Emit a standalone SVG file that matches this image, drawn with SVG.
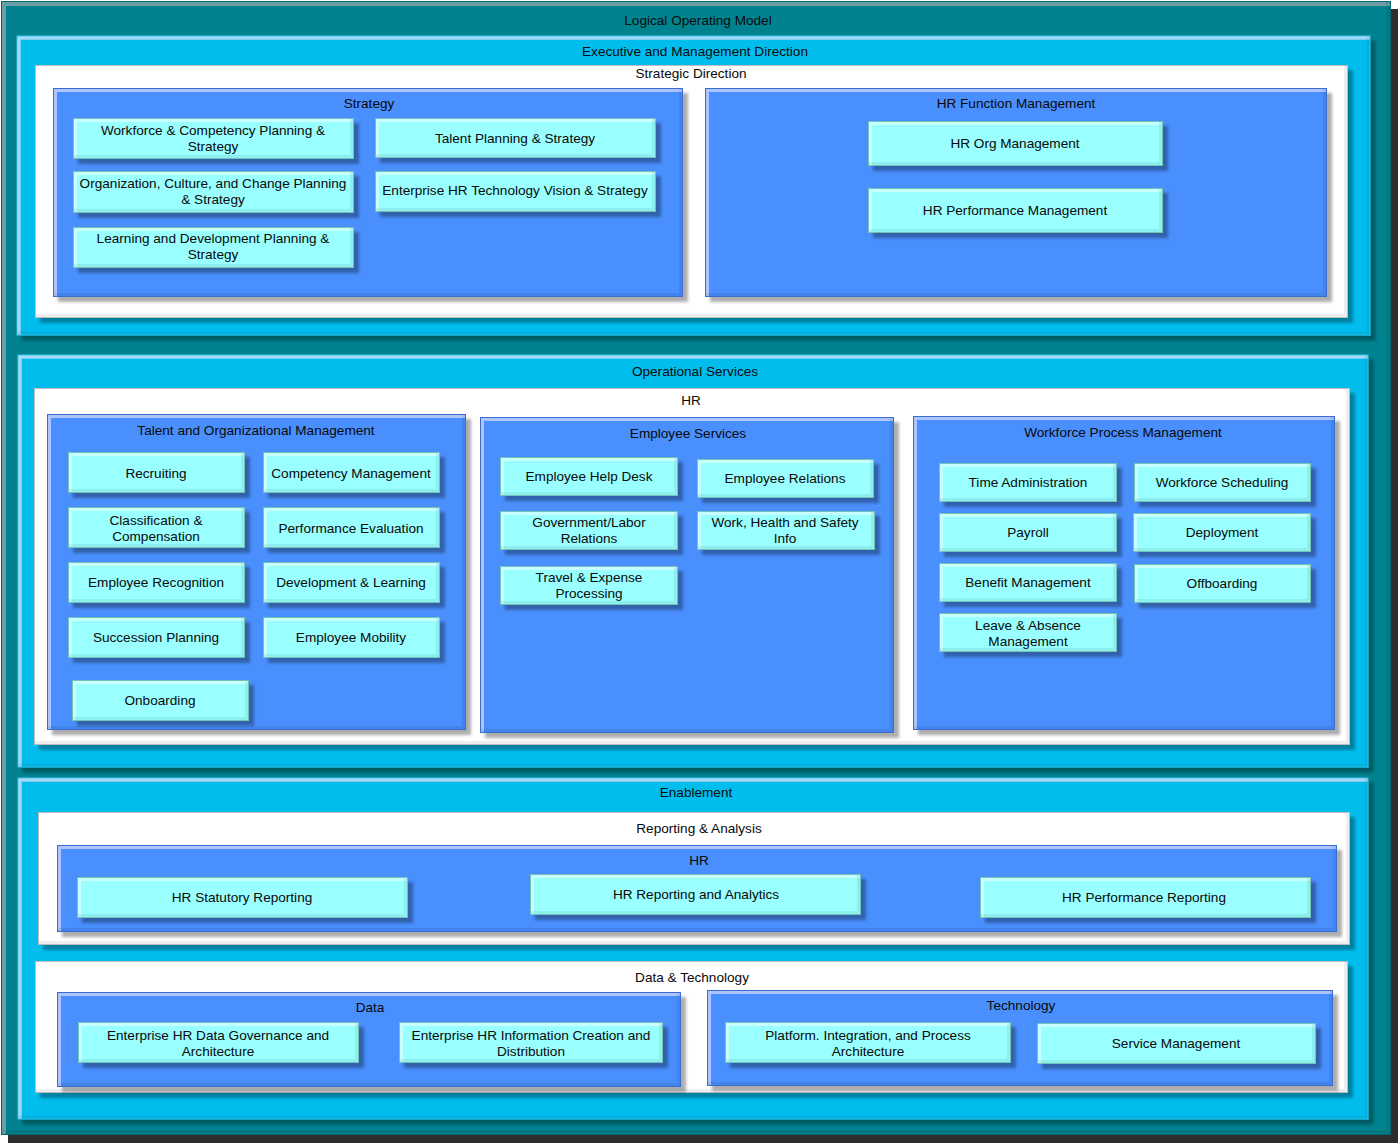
<svg xmlns="http://www.w3.org/2000/svg" width="1400" height="1145" viewBox="0 0 1400 1145">
<defs>
<filter id="fo" x="-0.02" y="-0.02" width="1.05" height="1.05">
<feOffset in="SourceAlpha" dx="7" dy="8" result="o"/>
<feFlood flood-color="#2e2e2e"/>
<feComposite in2="o" operator="in" result="sh"/>
<feMorphology in="SourceAlpha" operator="erode" radius="1" result="e"/>
<feOffset in="e" dx="4" dy="4" result="e1"/>
<feComposite in="e" in2="e1" operator="out" result="tl"/>
<feFlood flood-color="#ffffff" flood-opacity="0.15"/>
<feComposite in2="tl" operator="in" result="hl"/>
<feOffset in="e" dx="-4" dy="-4" result="e2"/>
<feComposite in="e" in2="e2" operator="out" result="br"/>
<feFlood flood-color="#000" flood-opacity="0.15"/>
<feComposite in2="br" operator="in" result="dk"/>
<feMerge><feMergeNode in="sh"/><feMergeNode in="SourceGraphic"/><feMergeNode in="hl"/><feMergeNode in="dk"/></feMerge>
</filter>
<filter id="fb" x="-0.05" y="-0.1" width="1.2" height="1.6">
<feOffset in="SourceAlpha" dx="5" dy="5" result="o"/>
<feGaussianBlur in="o" stdDeviation="1.5" result="ob"/>
<feFlood flood-color="#000" flood-opacity="0.32"/>
<feComposite in2="ob" operator="in" result="sh"/>
<feMorphology in="SourceAlpha" operator="erode" radius="1" result="e"/>
<feOffset in="e" dx="3" dy="3" result="e1"/>
<feComposite in="e" in2="e1" operator="out" result="tl"/>
<feFlood flood-color="#ffffff" flood-opacity="0.38"/>
<feComposite in2="tl" operator="in" result="hl"/>
<feOffset in="e" dx="-3" dy="-3" result="e2"/>
<feComposite in="e" in2="e2" operator="out" result="br"/>
<feFlood flood-color="#000" flood-opacity="0.15"/>
<feComposite in2="br" operator="in" result="dk"/>
<feMerge><feMergeNode in="sh"/><feMergeNode in="SourceGraphic"/><feMergeNode in="hl"/><feMergeNode in="dk"/></feMerge>
</filter>
</defs>
<style>
text{font-family:"Liberation Sans",Arial,sans-serif;font-size:13.6px;fill:#0a0a0a;text-anchor:middle}
.teal{fill:#00838f;stroke:#006770;stroke-width:1;filter:url(#fo)}
.cyan{fill:#00bdee;stroke:#2ccaf8;stroke-width:1;filter:url(#fb)}
.white{fill:#ffffff;stroke:#bdbdbd;stroke-width:1;filter:url(#fb)}
.blue{fill:#4a8ffd;stroke:#3a6cd0;stroke-width:1;filter:url(#fb)}
.leaf{fill:#99ffff;stroke:#72c2b8;stroke-width:1;filter:url(#fb)}
</style>
<rect width="1400" height="1145" fill="#ffffff"/>

<g id="logical-operating-model">
<rect class="teal" x="1.5" y="1.5" width="1389" height="1133"/>
<text x="698" y="25">Logical Operating Model</text>

<g id="executive-management-direction">
<rect class="cyan" x="17" y="36" width="1353" height="299"/>
<text x="695" y="56">Executive and Management Direction</text>
<g id="strategic-direction">
<rect class="white" x="35.5" y="65.5" width="1312" height="252"/>
<text x="691" y="78">Strategic Direction</text>
<g id="strategy">
<rect class="blue" x="53.5" y="88.5" width="629" height="208"/>
<text x="369" y="108">Strategy</text>
<g id="workforce-competency"><rect class="leaf" x="73.5" y="118.5" width="280" height="40"/><text x="213" y="135">Workforce &amp; Competency Planning &amp;</text><text x="213" y="151">Strategy</text></g>
<g id="org-culture-change"><rect class="leaf" x="73.5" y="171.5" width="280" height="41"/><text x="213" y="188">Organization, Culture, and Change Planning</text><text x="213" y="204">&amp; Strategy</text></g>
<g id="learning-development-planning"><rect class="leaf" x="73.5" y="227.5" width="280" height="40"/><text x="213" y="243">Learning and Development Planning &amp;</text><text x="213" y="259">Strategy</text></g>
<g id="talent-planning"><rect class="leaf" x="375.5" y="118.5" width="280" height="39"/><text x="515" y="143">Talent Planning &amp; Strategy</text></g>
<g id="hr-tech-vision"><rect class="leaf" x="375.5" y="171.5" width="280" height="40"/><text x="515" y="195">Enterprise HR Technology Vision &amp; Strategy</text></g>
</g>
<g id="hr-function-management">
<rect class="blue" x="705.5" y="88.5" width="621" height="208"/>
<text x="1016" y="108">HR Function Management</text>
<g id="hr-org-management"><rect class="leaf" x="868.5" y="121.5" width="294" height="44"/><text x="1015" y="148">HR Org Management</text></g>
<g id="hr-performance-management"><rect class="leaf" x="868.5" y="188.5" width="294" height="44"/><text x="1015" y="215">HR Performance Management</text></g>
</g>
</g>
</g>

<g id="operational-services">
<rect class="cyan" x="18" y="355" width="1350" height="412"/>
<text x="695" y="376">Operational Services</text>
<g id="hr-operations">
<rect class="white" x="34.5" y="388.5" width="1315" height="356"/>
<text x="691" y="405">HR</text>
<g id="talent-org-management">
<rect class="blue" x="47.5" y="414.5" width="418" height="315"/>
<text x="256" y="435">Talent and Organizational Management</text>
<g id="recruiting"><rect class="leaf" x="68.5" y="452.5" width="176" height="40"/><text x="156" y="478">Recruiting</text></g>
<g id="competency-management"><rect class="leaf" x="263.5" y="452.5" width="176" height="40"/><text x="351" y="478">Competency Management</text></g>
<g id="classification-compensation"><rect class="leaf" x="68.5" y="507.5" width="176" height="40"/><text x="156" y="525">Classification &amp;</text><text x="156" y="541">Compensation</text></g>
<g id="performance-evaluation"><rect class="leaf" x="263.5" y="507.5" width="176" height="40"/><text x="351" y="533">Performance Evaluation</text></g>
<g id="employee-recognition"><rect class="leaf" x="68.5" y="562.5" width="176" height="40"/><text x="156" y="587">Employee Recognition</text></g>
<g id="development-learning"><rect class="leaf" x="263.5" y="562.5" width="176" height="40"/><text x="351" y="587">Development &amp; Learning</text></g>
<g id="succession-planning"><rect class="leaf" x="68.5" y="617.5" width="176" height="40"/><text x="156" y="642">Succession Planning</text></g>
<g id="employee-mobility"><rect class="leaf" x="263.5" y="617.5" width="176" height="40"/><text x="351" y="642">Employee Mobility</text></g>
<g id="onboarding"><rect class="leaf" x="72.5" y="680.5" width="176" height="40"/><text x="160" y="705">Onboarding</text></g>
</g>
<g id="employee-services">
<rect class="blue" x="480.5" y="417.5" width="413" height="315"/>
<text x="688" y="438">Employee Services</text>
<g id="employee-help-desk"><rect class="leaf" x="500.5" y="457.5" width="177" height="38"/><text x="589" y="481">Employee Help Desk</text></g>
<g id="employee-relations"><rect class="leaf" x="697.5" y="459.5" width="176" height="38"/><text x="785" y="483">Employee Relations</text></g>
<g id="government-labor-relations"><rect class="leaf" x="500.5" y="511.5" width="177" height="38"/><text x="589" y="527">Government/Labor</text><text x="589" y="543">Relations</text></g>
<g id="work-health-safety"><rect class="leaf" x="697.5" y="511.5" width="177" height="38"/><text x="785" y="527">Work, Health and Safety</text><text x="785" y="543">Info</text></g>
<g id="travel-expense"><rect class="leaf" x="500.5" y="566.5" width="177" height="38"/><text x="589" y="582">Travel &amp; Expense</text><text x="589" y="598">Processing</text></g>
</g>
<g id="workforce-process-management">
<rect class="blue" x="913.5" y="416.5" width="421" height="313"/>
<text x="1123" y="437">Workforce Process Management</text>
<g id="time-administration"><rect class="leaf" x="939.5" y="463.5" width="177" height="38"/><text x="1028" y="487">Time Administration</text></g>
<g id="workforce-scheduling"><rect class="leaf" x="1134.5" y="463.5" width="176" height="38"/><text x="1222" y="487">Workforce Scheduling</text></g>
<g id="payroll"><rect class="leaf" x="939.5" y="513.5" width="177" height="38"/><text x="1028" y="537">Payroll</text></g>
<g id="deployment"><rect class="leaf" x="1133.5" y="513.5" width="177" height="38"/><text x="1222" y="537">Deployment</text></g>
<g id="benefit-management"><rect class="leaf" x="939.5" y="563.5" width="177" height="38"/><text x="1028" y="587">Benefit Management</text></g>
<g id="offboarding"><rect class="leaf" x="1134.5" y="564.5" width="176" height="38"/><text x="1222" y="588">Offboarding</text></g>
<g id="leave-absence"><rect class="leaf" x="939.5" y="613.5" width="177" height="38"/><text x="1028" y="630">Leave &amp; Absence</text><text x="1028" y="646">Management</text></g>
</g>
</g>
</g>

<g id="enablement">
<rect class="cyan" x="18" y="778" width="1350" height="341"/>
<text x="696" y="797">Enablement</text>
<g id="reporting-analysis">
<rect class="white" x="38.5" y="812.5" width="1311" height="132"/>
<text x="699" y="833">Reporting &amp; Analysis</text>
<g id="hr-reporting">
<rect class="blue" x="57.5" y="845.5" width="1279" height="86"/>
<text x="699" y="865">HR</text>
<g id="hr-statutory-reporting"><rect class="leaf" x="77.5" y="877.5" width="330" height="40"/><text x="242" y="902">HR Statutory Reporting</text></g>
<g id="hr-reporting-analytics"><rect class="leaf" x="530.5" y="874.5" width="330" height="40"/><text x="696" y="899">HR Reporting and Analytics</text></g>
<g id="hr-performance-reporting"><rect class="leaf" x="980.5" y="877.5" width="330" height="40"/><text x="1144" y="902">HR Performance Reporting</text></g>
</g>
</g>
<g id="data-technology">
<rect class="white" x="35.5" y="961.5" width="1312" height="131"/>
<text x="692" y="982">Data &amp; Technology</text>
<g id="data">
<rect class="blue" x="57.5" y="992.5" width="623" height="94"/>
<text x="370" y="1012">Data</text>
<g id="data-governance"><rect class="leaf" x="78.5" y="1022.5" width="280" height="40"/><text x="218" y="1040">Enterprise HR Data Governance and</text><text x="218" y="1056">Architecture</text></g>
<g id="info-creation"><rect class="leaf" x="399.5" y="1022.5" width="263" height="40"/><text x="531" y="1040">Enterprise HR Information Creation and</text><text x="531" y="1056">Distribution</text></g>
</g>
<g id="technology">
<rect class="blue" x="707.5" y="990.5" width="625" height="95"/>
<text x="1021" y="1010">Technology</text>
<g id="platform-integration"><rect class="leaf" x="725.5" y="1022.5" width="285" height="40"/><text x="868" y="1040">Platform. Integration, and Process</text><text x="868" y="1056">Architecture</text></g>
<g id="service-management"><rect class="leaf" x="1037.5" y="1023.5" width="278" height="40"/><text x="1176" y="1048">Service Management</text></g>
</g>
</g>
</g>
</g>
<g id="connectors"/>
</svg>
